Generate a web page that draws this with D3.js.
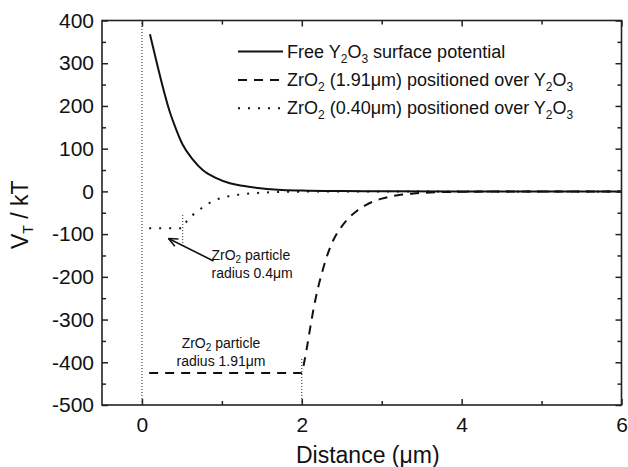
<!DOCTYPE html>
<html><head><meta charset="utf-8">
<script src="https://cdn.jsdelivr.net/npm/d3@7"></script>
<style>body{margin:0;background:#fff}svg{display:block}text{font-family:"Liberation Sans",Arial,sans-serif;fill:#111}</style>
</head><body><svg id="c" width="628" height="467"></svg>
<script>
// Data
const freeX = [0.10,0.18,0.26,0.34,0.43,0.51,0.64,0.76,0.93,1.10,1.26,1.45,1.70,2.00,2.50,3.00,4.00,6.00];
const freeY = [368,305,245,191,144,109,74,50,31,19,13,8,4,2,0.7,0.2,0,0];
const big191X = [0.09,2.00,2.03,2.06,2.10,2.15,2.20,2.25,2.30,2.40,2.50,2.60,2.70,2.80,3.00,3.20,3.40,3.70,4.00,4.50,6.00];
const big191Y = [-425,-425,-400,-370,-325,-272,-228,-192,-160,-112,-82,-60,-44,-32,-17,-9,-5,-2,-1,0,0];
const small040X = [0.09,0.51,0.54,0.57,0.63,0.70,0.80,0.90,1.00,1.10,1.20,1.35,1.50,1.70,2.00,2.50,6.00];
const small040Y = [-86,-86,-76,-67,-56,-46,-32,-22,-15,-11,-8,-5,-3,-1.5,-0.5,0,0];
const xTicks = [0,2,4,6];
const xMinor = [1,3,5];
const yTicks = [-500,-400,-300,-200,-100,0,100,200,300,400];
const yMinor = [-450,-350,-250,-150,-50,50,150,250,350];
const guideX = [0, 0.51, 2.0];
const guideY0 = [-500, -121, -500];
const guideY1 = [400, -52, -390];

const svg = d3.select("#c");
const L=102,R=621.5,T=20.5,B=405;
const x = d3.scaleLinear().domain([-0.5,6]).range([L,R]);
const y = d3.scaleLinear().domain([-500,400]).range([B,T]);
const fmt = d => String(d);

// guide vertical dotted lines
guideX.forEach((g,i)=>{
  svg.append("line").attr("x1",x(g)).attr("x2",x(g)).attr("y1",y(guideY0[i])).attr("y2",y(guideY1[i]))
   .attr("stroke","#222").attr("stroke-width",1).attr("stroke-dasharray","1,2");
});

const line = d3.line().x(d=>x(d[0])).y(d=>y(d[1])).curve(d3.curveMonotoneX);
function series(xs,ys,dash){
  svg.append("path").datum(xs.map((v,i)=>[v,ys[i]])).attr("d",line)
    .attr("fill","none").attr("stroke","#111").attr("stroke-width",2).attr("stroke-dasharray",dash);
}
series(freeX,freeY,null);
series(big191X,big191Y,"9,7");
series(small040X,small040Y,"2,8");

// axes
const fs=21;
const gB = svg.append("g").attr("transform",`translate(0,${B})`).call(d3.axisBottom(x).tickValues(xTicks).tickSize(-6).tickPadding(12).tickFormat(fmt));
const gBm = svg.append("g").attr("transform",`translate(0,${B})`).call(d3.axisBottom(x).tickValues(xMinor).tickSize(-4).tickFormat(""));
const gT = svg.append("g").attr("transform",`translate(0,${T})`).call(d3.axisTop(x).tickValues(xTicks).tickSize(-6).tickFormat(""));
const gTm = svg.append("g").attr("transform",`translate(0,${T})`).call(d3.axisTop(x).tickValues(xMinor).tickSize(-4).tickFormat(""));
const gL = svg.append("g").attr("transform",`translate(${L},0)`).call(d3.axisLeft(y).tickValues(yTicks).tickSize(-6).tickPadding(8).tickFormat(fmt));
const gLm = svg.append("g").attr("transform",`translate(${L},0)`).call(d3.axisLeft(y).tickValues(yMinor).tickSize(-4).tickFormat(""));
const gR = svg.append("g").attr("transform",`translate(${R},0)`).call(d3.axisRight(y).tickValues(yTicks).tickSize(-6).tickFormat(""));
const gRm = svg.append("g").attr("transform",`translate(${R},0)`).call(d3.axisRight(y).tickValues(yMinor).tickSize(-4).tickFormat(""));
[gB,gBm,gT,gTm,gL,gLm,gR,gRm].forEach(g=>{
  g.select(".domain").remove();
  g.selectAll(".tick line").attr("stroke","#222").attr("stroke-width",1.5);
  g.selectAll(".tick text").attr("font-size",fs).attr("font-family","Liberation Sans, Arial, sans-serif").attr("fill","#111");
});
svg.append("rect").attr("x",L).attr("y",T).attr("width",R-L).attr("height",B-T)
  .attr("fill","none").attr("stroke","#222").attr("stroke-width",1.6);

// axis titles
const xt = svg.append("text").attr("x",(L+R)/2+6).attr("y",463).attr("text-anchor","middle").attr("font-size",23);
xt.append("tspan").text("Distance (\u03bcm)");
const yt = svg.append("text").attr("transform",`translate(28,${(T+B)/2+2}) rotate(-90)`).attr("text-anchor","middle").attr("font-size",23);
yt.append("tspan").text("V");
yt.append("tspan").attr("font-size",14).attr("dy",5).text("T");
yt.append("tspan").attr("dy",-5).text(" / kT");

// legend
const legendItems = [
  {dash:null, parts:[["Free Y",0],["2",1],["O",0],["3",1],[" surface potential",0]]},
  {dash:"9,7", parts:[["ZrO",0],["2",1],[" (1.91\u03bcm) positioned over Y",0],["2",1],["O",0],["3",1]]},
  {dash:"2,8", parts:[["ZrO",0],["2",1],[" (0.40\u03bcm) positioned over Y",0],["2",1],["O",0],["3",1]]}
];
legendItems.forEach((it,i)=>{
  const by = 57.5 + i*28.4;
  svg.append("line").attr("x1",238).attr("x2",283).attr("y1",by-6).attr("y2",by-6)
    .attr("stroke","#111").attr("stroke-width",2).attr("stroke-dasharray",it.dash);
  const t = svg.append("text").attr("x",287).attr("y",by).attr("font-size",18);
  let sub=false;
  it.parts.forEach(p=>{
    const ts = t.append("tspan").text(p[0]);
    if(p[1] && !sub){ts.attr("dy",5).attr("font-size",12);sub=true;}
    else if(p[1] && sub){ts.attr("font-size",12);}
    else if(!p[1] && sub){ts.attr("dy",-5);sub=false;}
  });
});

// annotations
function ann(cx,y1,y2,line2,anchor){
  const t1 = svg.append("text").attr("x",cx).attr("y",y1).attr("font-size",14).attr("text-anchor",anchor);
  t1.append("tspan").text("ZrO");
  t1.append("tspan").attr("font-size",10).attr("dy",3).text("2");
  t1.append("tspan").attr("dy",-3).text(" particle");
  svg.append("text").attr("x",cx).attr("y",y2).attr("font-size",14).attr("text-anchor",anchor).text(line2);
}
ann(211.5,260,278,"radius 0.4\u03bcm","start");
ann(221,347.5,366,"radius 1.91\u03bcm","middle");
// arrow
const ax1=213.5, ay1=261, ax2=168.5, ay2=238.5;
svg.append("line").attr("x1",ax1).attr("y1",ay1).attr("x2",ax2).attr("y2",ay2).attr("stroke","#111").attr("stroke-width",1.6);
const ang=Math.atan2(ay1-ay2,ax1-ax2), hl=10;
[0.42,-0.42].forEach(a=>{
  svg.append("line").attr("x1",ax2).attr("y1",ay2).attr("x2",ax2+hl*Math.cos(ang+a)).attr("y2",ay2+hl*Math.sin(ang+a))
   .attr("stroke","#111").attr("stroke-width",1.6);
});
</script></body></html>
